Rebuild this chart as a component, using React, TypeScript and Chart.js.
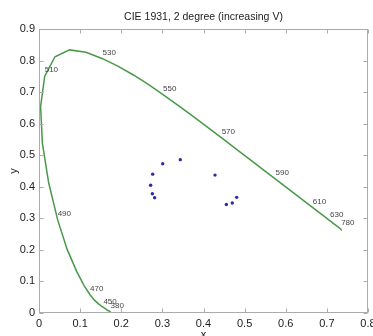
import { useEffect, useRef } from 'react';
import { Chart, registerables } from 'chart.js';

Chart.register(...registerables);

// CIE 1931 2° spectral locus chromaticity coordinates (nm, x, y)
const WAVELENGTHS = [
  380, 385, 390, 395, 400, 405, 410, 415, 420, 425, 430, 435, 440, 445, 450, 455,
  460, 465, 470, 475, 480, 485, 490, 495, 500, 505, 510, 515, 520, 525, 530, 535,
  540, 545, 550, 555, 560, 565, 570, 575, 580, 585, 590, 595, 600, 605, 610, 615,
  620, 625, 630, 635, 640, 645, 650, 655, 660, 665, 670, 675, 680, 685, 690, 695,
  700, 780,
];
const LOCUS_X = [
  0.1741, 0.174, 0.1738, 0.1736, 0.1733, 0.173, 0.1726, 0.1721, 0.1714, 0.1703, 0.1689, 0.1669, 0.1644, 0.1611, 0.1566, 0.151,
  0.144, 0.1355, 0.1241, 0.1096, 0.0913, 0.0687, 0.0454, 0.0235, 0.0082, 0.0039, 0.0139, 0.0389, 0.0743, 0.1142, 0.1547, 0.1929,
  0.2296, 0.2658, 0.3016, 0.3373, 0.3731, 0.4087, 0.4441, 0.4788, 0.5125, 0.5448, 0.5752, 0.6029, 0.627, 0.6482, 0.6658, 0.6801,
  0.6915, 0.7006, 0.7079, 0.714, 0.719, 0.723, 0.726, 0.7283, 0.73, 0.7311, 0.732, 0.7327, 0.7334, 0.734, 0.7344, 0.7346,
  0.7347, 0.7347,
];
const LOCUS_Y = [
  0.005, 0.005, 0.0049, 0.0049, 0.0048, 0.0048, 0.0048, 0.0048, 0.0051, 0.0058, 0.0069, 0.0086, 0.0109, 0.0138, 0.0177, 0.0227,
  0.0297, 0.0399, 0.0578, 0.0868, 0.1327, 0.2007, 0.295, 0.4127, 0.5384, 0.6548, 0.7502, 0.812, 0.8338, 0.8262, 0.8059, 0.7816,
  0.7543, 0.7243, 0.6923, 0.6589, 0.6245, 0.5896, 0.5547, 0.5202, 0.4866, 0.4544, 0.4242, 0.3965, 0.3725, 0.3514, 0.334, 0.3197,
  0.3083, 0.2993, 0.292, 0.2859, 0.2809, 0.277, 0.274, 0.2717, 0.27, 0.2689, 0.268, 0.2673, 0.2666, 0.266, 0.2656, 0.2654,
  0.2653, 0.2653,
];
const LABELLED_WAVELENGTHS = [380, 450, 470, 490, 510, 530, 550, 570, 590, 610, 630, 780];

// Measured sample chromaticities
const SAMPLE_X = [0.3436, 0.3008, 0.2764, 0.2715, 0.2756, 0.2812, 0.428, 0.4555, 0.47, 0.4807];
const SAMPLE_Y = [0.486, 0.473, 0.44, 0.405, 0.378, 0.365, 0.437, 0.344, 0.3485, 0.3665];

const TITLE = 'CIE 1931, 2 degree (increasing V)';
const FONT = '"Liberation Sans", Arial, Helvetica, sans-serif';
const AXIS_COLOR = '#ababab';
const TEXT_COLOR = '#222';

const framePlugin = {
  id: 'boxFrame',
  afterDraw(chart: any) {
    const { ctx, chartArea, scales } = chart;
    const { left, right, top, bottom } = chartArea;
    const L = Math.round(left) + 0.5;
    const R = Math.round(right) - 0.5;
    const T = Math.round(top) + 0.5;
    const B = Math.round(bottom) - 0.5;
    const len = 4;
    ctx.save();
    ctx.strokeStyle = AXIS_COLOR;
    ctx.lineWidth = 1;
    ctx.strokeRect(L, T, R - L, B - T);
    ctx.beginPath();
    for (const t of scales.x.ticks) {
      const px = Math.round(scales.x.getPixelForValue(t.value)) + 0.5;
      ctx.moveTo(px, B);
      ctx.lineTo(px, B - len);
      ctx.moveTo(px, T);
      ctx.lineTo(px, T + len);
    }
    for (const t of scales.y.ticks) {
      const py = Math.round(scales.y.getPixelForValue(t.value)) + 0.5;
      ctx.moveTo(L, py);
      ctx.lineTo(L + len, py);
      ctx.moveTo(R, py);
      ctx.lineTo(R - len, py);
    }
    ctx.stroke();
    ctx.restore();
  },
};

const wavelengthLabelPlugin = {
  id: 'wavelengthLabels',
  afterDatasetsDraw(chart: any) {
    const { ctx, scales } = chart;
    ctx.save();
    ctx.font = `8px ${FONT}`;
    ctx.fillStyle = '#444';
    ctx.textAlign = 'left';
    ctx.textBaseline = 'middle';
    for (const nm of LABELLED_WAVELENGTHS) {
      const i = WAVELENGTHS.indexOf(nm);
      const px = scales.x.getPixelForValue(LOCUS_X[i]);
      const py = scales.y.getPixelForValue(LOCUS_Y[i]);
      ctx.fillText(String(nm), px, py - 6);
    }
    ctx.restore();
  },
};

export default function App() {
  const canvasRef = useRef<HTMLCanvasElement | null>(null);

  useEffect(() => {
    const canvas = canvasRef.current;
    if (!canvas) return;
    const locus = WAVELENGTHS.map((_, i) => ({ x: LOCUS_X[i], y: LOCUS_Y[i] }));
    const samples = SAMPLE_X.map((x, i) => ({ x, y: SAMPLE_Y[i] }));

    const tickFont = { family: FONT, size: 11 };
    const chart = new Chart(canvas, {
      type: 'scatter',
      data: {
        datasets: [
          {
            label: 'Spectral locus',
            data: locus,
            showLine: true,
            borderColor: 'rgb(74,152,74)',
            borderWidth: 1.5,
            pointRadius: 0,
            tension: 0,
          },
          {
            label: 'Samples',
            data: samples,
            showLine: false,
            pointRadius: 1.7,
            pointBackgroundColor: '#2b2ba8',
            pointBorderWidth: 0,
          },
        ],
      },
      options: {
        animation: false,
        responsive: true,
        maintainAspectRatio: false,
        layout: { padding: { left: 0, right: 5, top: 0, bottom: 0 } },
        plugins: {
          legend: { display: false },
          tooltip: { enabled: false },
          title: {
            display: true,
            fullSize: false,
            text: TITLE,
            color: TEXT_COLOR,
            font: { family: FONT, size: 10.5, weight: 'normal' },
            padding: { top: 10.5, bottom: 5.9 },
          },
        },
        scales: {
          x: {
            type: 'linear',
            min: 0,
            max: 0.8,
            ticks: {
              stepSize: 0.1,
              padding: 4,
              color: TEXT_COLOR,
              font: tickFont,
              maxRotation: 0,
              autoSkip: false,
            },
            grid: { display: false, drawTicks: false },
            border: { display: false },
            title: {
              display: true,
              text: 'x',
              color: TEXT_COLOR,
              font: tickFont,
              padding: { top: 0, bottom: -6 },
            },
            afterFit(scale: any) {
              scale.height = 23;
              scale.paddingLeft = 0;
              scale.paddingRight = 0;
            },
          },
          y: {
            type: 'linear',
            min: 0,
            max: 0.9,
            ticks: {
              stepSize: 0.1,
              padding: 4,
              color: TEXT_COLOR,
              font: tickFont,
              autoSkip: false,
            },
            grid: { display: false, drawTicks: false },
            border: { display: false },
            title: {
              display: true,
              text: 'y',
              color: TEXT_COLOR,
              font: tickFont,
              padding: { top: 7, bottom: 0 },
            },
            afterFit(scale: any) {
              scale.width = 39;
              scale.paddingTop = 0;
              scale.paddingBottom = 0;
            },
          },
        },
      },
      plugins: [wavelengthLabelPlugin, framePlugin],
    } as any);

    return () => chart.destroy();
  }, []);

  return (
    <div style={{ position: 'fixed', left: 0, top: 0, width: 373, height: 336, background: '#fff' }}>
      <canvas ref={canvasRef} />
    </div>
  );
}
